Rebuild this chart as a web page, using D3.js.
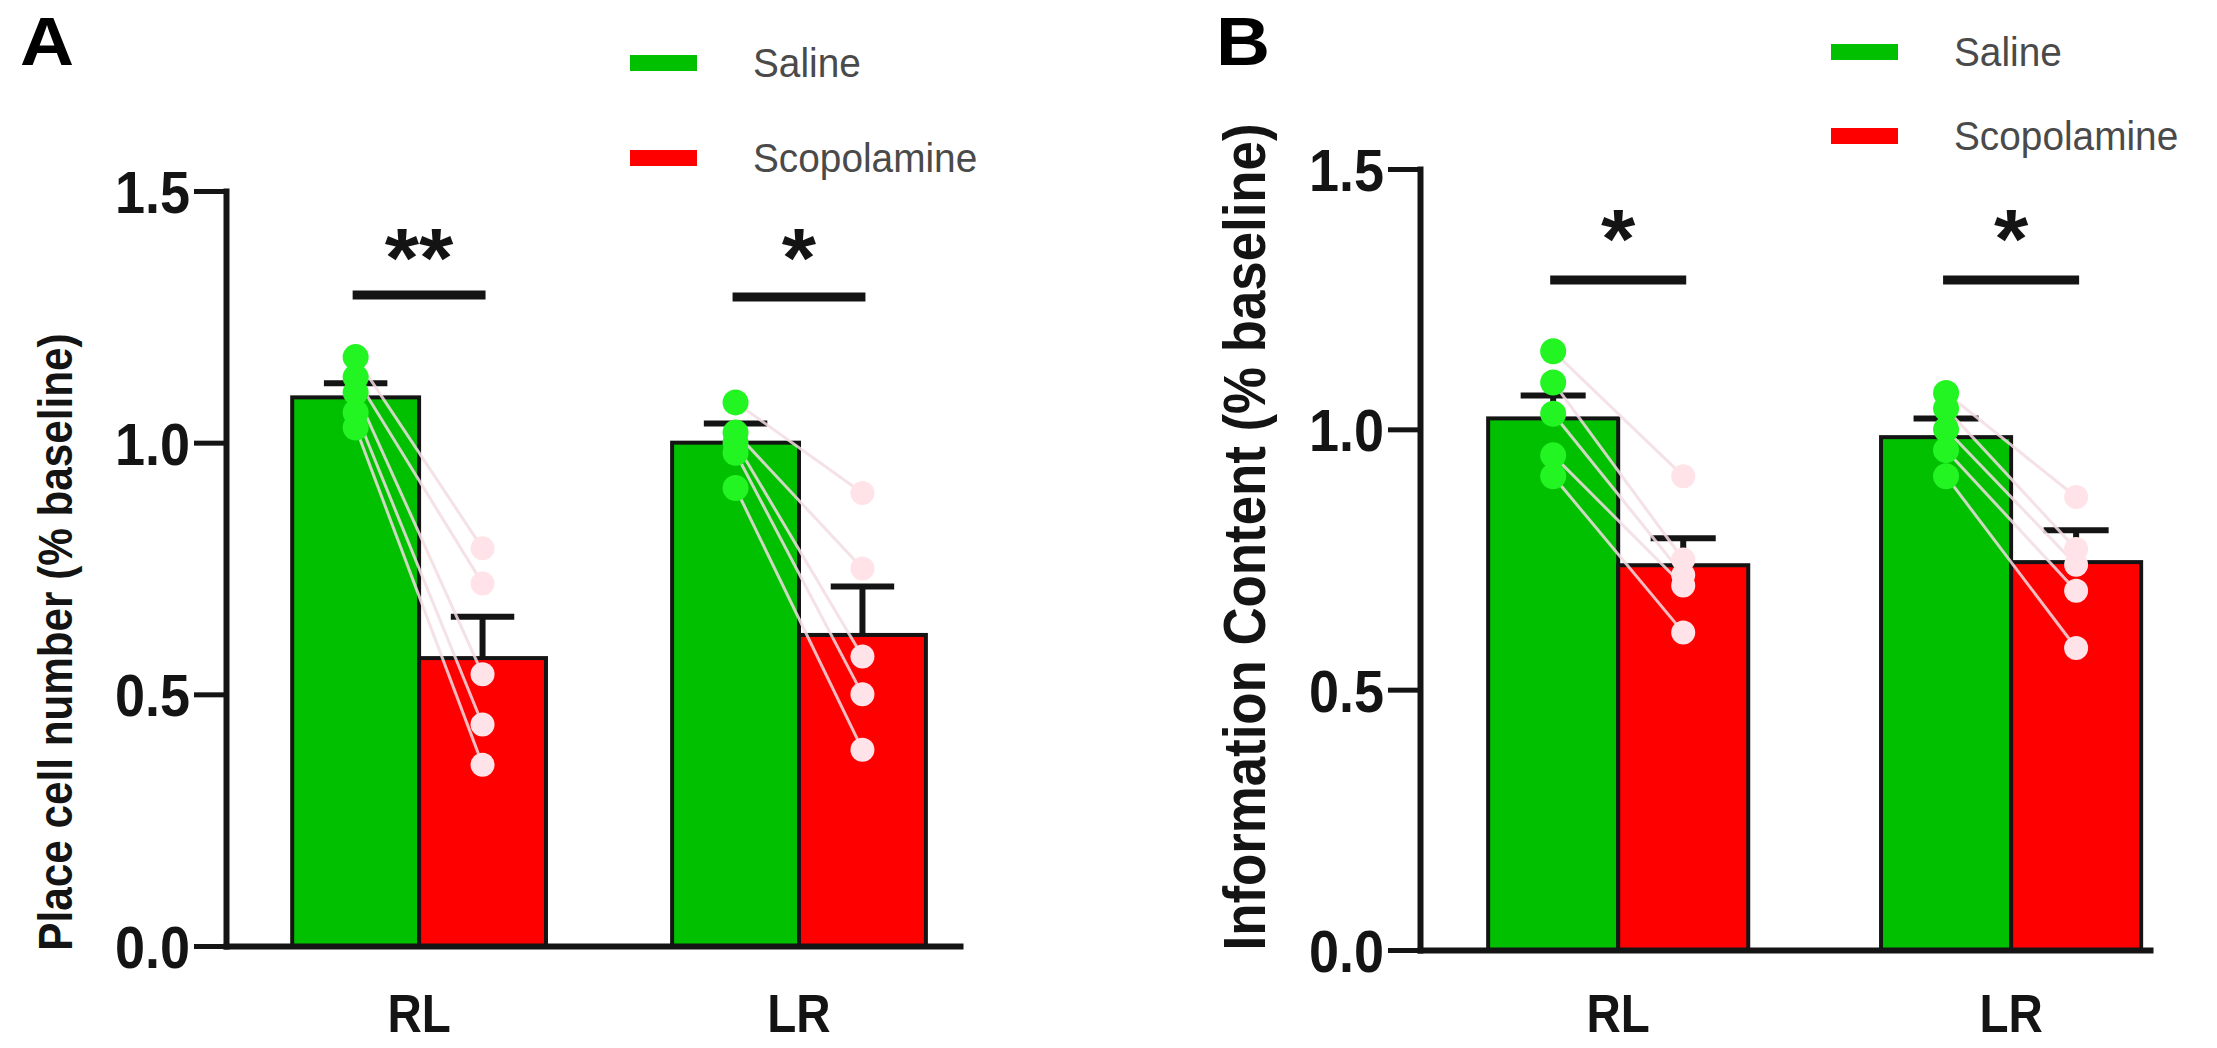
<!DOCTYPE html>
<html>
<head>
<meta charset="utf-8">
<script src="https://cdn.jsdelivr.net/npm/d3@7"></script>
<style>
  html, body { margin: 0; padding: 0; background: #fff; }
  svg { display: block; }
</style>
</head>
<body>
<svg id="chart" width="2217" height="1048"></svg>
<script>
// ---------------- DATA ----------------
const categories = ["RL", "LR"];
const groups = ["Saline", "Scopolamine"];
const yTicks = [0, 0.5, 1.0, 1.5];
const yTickLabels = ["0.0", "0.5", "1.0", "1.5"];

// Panel A: Place cell number (% baseline)
const salineMeanA = [1.09, 1.00];
const salineSemA  = [0.028, 0.038];
const scopMeanA   = [0.572, 0.618];
const scopSemA    = [0.082, 0.096];
const salinePtsA_RL = [1.17, 1.13, 1.10, 1.06, 1.03];
const scopPtsA_RL   = [0.79, 0.72, 0.54, 0.44, 0.36];
const salinePtsA_LR = [1.08, 1.02, 1.00, 0.98, 0.91];
const scopPtsA_LR   = [0.90, 0.75, 0.575, 0.50, 0.39];
const sigA = ["**", "*"];

// Panel B: Information Content (% baseline)
const salineMeanB = [1.021, 0.985];
const salineSemB  = [0.044, 0.036];
const scopMeanB   = [0.739, 0.745];
const scopSemB    = [0.052, 0.061];
const salinePtsB_RL = [1.15, 1.09, 1.03, 0.95, 0.91];
const scopPtsB_RL   = [0.91, 0.75, 0.72, 0.70, 0.61];
const salinePtsB_LR = [1.07, 1.04, 1.00, 0.96, 0.91];
const scopPtsB_LR   = [0.87, 0.77, 0.74, 0.69, 0.58];
const sigB = ["*", "*"];

// ---------------- LAYOUT / STYLE ----------------
const GREEN = "#00c000", RED = "#ff0000", GREEN_PT = "#22f522", RED_PT = "#ffe3e8";
const INK = "#141414";
const FONT = "'Liberation Sans', Arial, Helvetica, sans-serif";
const CONDENSE = 0.88;

const panels = [
  {
    letter: "A", letterX: 20, letterY: 65,
    ylabel: "Place cell number (% baseline)", ylabelSize: 48, ylabelX: 72, ylabelY: 642,
    salineMean: salineMeanA, salineSem: salineSemA, scopMean: scopMeanA, scopSem: scopSemA,
    salinePts: [salinePtsA_RL, salinePtsA_LR], scopPts: [scopPtsA_RL, scopPtsA_LR], sig: sigA,
    xRange: [226, 960], yRange: [946, 191], pi: 0.332, po: 0.132, align: 0.66,
    sigY: [295, 297], starY: [243, 243],
    legendX: 630, legendY: [63, 158]
  },
  {
    letter: "B", letterX: 1216, letterY: 65,
    ylabel: "Information Content (% baseline)", ylabelSize: 60, ylabelX: 1265, ylabelY: 537,
    salineMean: salineMeanB, salineSem: salineSemB, scopMean: scopMeanB, scopSem: scopSemB,
    salinePts: [salinePtsB_RL, salinePtsB_LR], scopPts: [scopPtsB_RL, scopPtsB_LR], sig: sigB,
    xRange: [1420, 2150], yRange: [950, 169], pi: 0.338, po: 0.098, align: 0.885,
    sigY: [280, 280], starY: [224, 224],
    legendX: 1831, legendY: [52, 136]
  }
];

const svg = d3.select("#chart");
svg.append("rect").attr("width", 2217).attr("height", 1048).attr("fill", "#fff");

function condensedText(g, x, y, txt, opts) {
  const rot = opts.rotate || 0;
  const sx = opts.sx === undefined ? CONDENSE : opts.sx;
  return g.append("text")
    .attr("transform", `translate(${x},${y}) rotate(${rot}) scale(${sx},1)`)
    .attr("text-anchor", opts.anchor || "start")
    .attr("font-family", FONT)
    .attr("font-weight", opts.weight || "bold")
    .attr("font-size", opts.size)
    .attr("fill", opts.fill || INK)
    .text(txt);
}

panels.forEach(p => {
  const g = svg.append("g");
  const x0 = d3.scaleBand().domain(categories).range(p.xRange)
    .paddingInner(p.pi).paddingOuter(p.po).align(p.align);
  const x1 = d3.scaleBand().domain(groups).range([0, x0.bandwidth()]);
  const y = d3.scaleLinear().domain([0, 1.5]).range(p.yRange);
  const bw = x1.bandwidth();

  // Bars
  const barData = [];
  categories.forEach((c, i) => {
    barData.push({cat: c, grp: "Saline", mean: p.salineMean[i], sem: p.salineSem[i], fill: GREEN});
    barData.push({cat: c, grp: "Scopolamine", mean: p.scopMean[i], sem: p.scopSem[i], fill: RED});
  });
  g.selectAll(".bar").data(barData).enter().append("rect")
    .attr("x", d => x0(d.cat) + x1(d.grp))
    .attr("y", d => y(d.mean))
    .attr("width", bw)
    .attr("height", d => y(0) - y(d.mean))
    .attr("fill", d => d.fill)
    .attr("stroke", INK).attr("stroke-width", 4);

  // Error bars (upward only)
  const cx = d => x0(d.cat) + x1(d.grp) + bw / 2;
  g.selectAll(".ebs").data(barData).enter().append("line")
    .attr("x1", cx).attr("x2", cx)
    .attr("y1", d => y(d.mean)).attr("y2", d => y(d.mean + d.sem))
    .attr("stroke", INK).attr("stroke-width", 6);
  g.selectAll(".ebc").data(barData).enter().append("line")
    .attr("x1", d => cx(d) - bw / 4).attr("x2", d => cx(d) + bw / 4)
    .attr("y1", d => y(d.mean + d.sem)).attr("y2", d => y(d.mean + d.sem))
    .attr("stroke", INK).attr("stroke-width", 6);

  // Subject lines and points
  categories.forEach((c, i) => {
    const xs = x0(c) + x1("Saline") + bw / 2;
    const xr = x0(c) + x1("Scopolamine") + bw / 2;
    const pairs = p.salinePts[i].map((v, k) => ({s: v, r: p.scopPts[i][k]}));
    g.selectAll(null).data(pairs).enter().append("line")
      .attr("x1", xs).attr("y1", d => y(d.s))
      .attr("x2", xr).attr("y2", d => y(d.r))
      .attr("stroke", "#f4dde3").attr("stroke-width", 3).attr("opacity", 0.85);
    g.selectAll(null).data(p.scopPts[i]).enter().append("circle")
      .attr("cx", xr).attr("cy", d => y(d)).attr("r", 12)
      .attr("fill", RED_PT);
    g.selectAll(null).data(p.salinePts[i]).enter().append("circle")
      .attr("cx", xs).attr("cy", d => y(d)).attr("r", 13)
      .attr("fill", GREEN_PT);
  });

  // Y axis
  const yAxis = d3.axisLeft(y).tickValues(yTicks)
    .tickFormat((d, i) => yTickLabels[i]).tickSize(32).tickSizeOuter(0).tickPadding(8);
  const ya = g.append("g").attr("transform", `translate(${p.xRange[0]},0)`).call(yAxis);
  ya.select(".domain").attr("stroke", INK).attr("stroke-width", 6).attr("stroke-linecap", "square");
  ya.selectAll(".tick line").attr("stroke", INK).attr("stroke-width", 5);
  ya.selectAll(".tick text")
    .attr("x", null).attr("dy", null)
    .attr("transform", `translate(-36,21.5) scale(0.9,1)`)
    .attr("font-family", FONT).attr("font-weight", "bold").attr("font-size", 60)
    .attr("fill", INK);

  // X axis
  const xAxis = d3.axisBottom(x0).tickSize(0).tickSizeOuter(0).tickPadding(0);
  const xa = g.append("g").attr("transform", `translate(0,${y(0)})`).call(xAxis);
  xa.select(".domain").attr("stroke", INK).attr("stroke-width", 6).attr("stroke-linecap", "square");
  xa.selectAll(".tick text")
    .attr("y", null).attr("dy", null)
    .attr("transform", `translate(0,${1032 - y(0)}) scale(${CONDENSE},1)`)
    .attr("font-family", FONT).attr("font-weight", "bold").attr("font-size", 54)
    .attr("fill", INK);

  // Y label
  condensedText(g, p.ylabelX, p.ylabelY, p.ylabel,
    {rotate: -90, anchor: "middle", size: p.ylabelSize});

  // Panel letter
  condensedText(g, p.letterX, p.letterY, p.letter, {size: 68, sx: 1.1, fill: "#000"});

  // Significance
  categories.forEach((c, i) => {
    const xs = x0(c) + x1("Saline") + bw / 2;
    const xr = x0(c) + x1("Scopolamine") + bw / 2;
    g.append("line").attr("x1", xs - 3).attr("x2", xr + 3)
      .attr("y1", p.sigY[i]).attr("y2", p.sigY[i])
      .attr("stroke", INK).attr("stroke-width", 9);
    condensedText(g, (xs + xr) / 2, p.starY[i] + 44, p.sig[i],
      {anchor: "middle", size: 84, sx: 1.05});
  });

  // Legend
  const legColors = [GREEN, RED];
  groups.forEach((gr, i) => {
    g.append("rect").attr("x", p.legendX).attr("y", p.legendY[i] - 8)
      .attr("width", 67).attr("height", 16).attr("fill", legColors[i]);
    condensedText(g, p.legendX + 123, p.legendY[i] + 14, gr,
      {size: 40, weight: "normal", sx: 0.97, fill: "#4a4a4a"});
  });
});
</script>
</body>
</html>
